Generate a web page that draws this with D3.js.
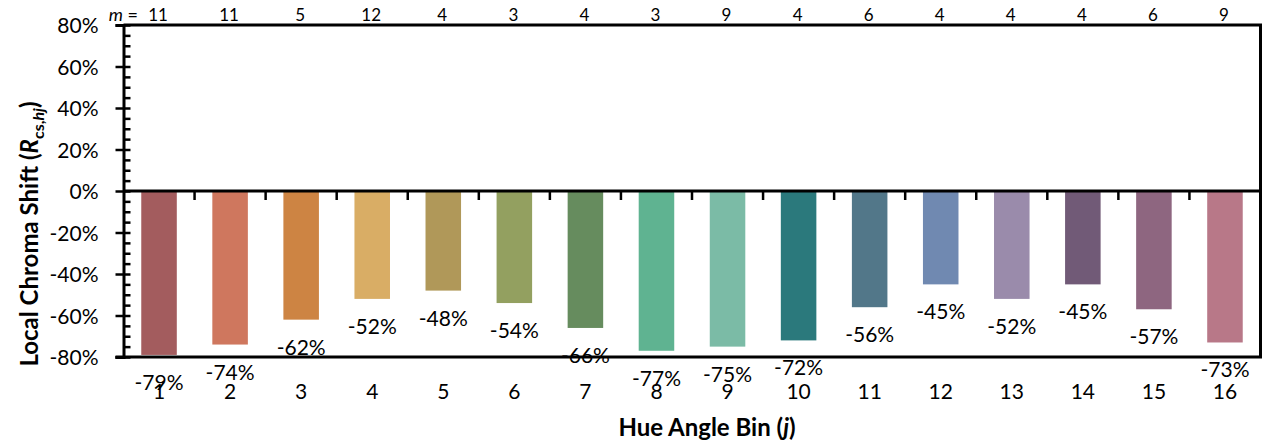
<!DOCTYPE html>
<html><head><meta charset="utf-8">
<script src="https://cdn.jsdelivr.net/npm/d3@7"></script>
<style>
html,body{margin:0;padding:0;background:#fff;}
text{font-family:Lato,"Noto Sans",sans-serif;fill:#000;}
</style></head>
<body><svg id="c" width="1264" height="445"></svg>
<script>
const categories = ["1","2","3","4","5","6","7","8","9","10","11","12","13","14","15","16"];
const values = [-0.79,-0.74,-0.62,-0.52,-0.48,-0.54,-0.66,-0.77,-0.75,-0.72,-0.56,-0.45,-0.52,-0.45,-0.57,-0.73];
const counts = [11,11,5,12,4,3,4,3,9,4,6,4,4,4,6,9];
const colors = ["#A35C5E","#CF775E","#CD8443","#D9AD65","#B09859","#93A060","#668C5E","#5FB391",
                "#7BBBA6","#2B797C","#527789","#7089B1","#9A8BAB","#715A77","#8E6680","#B87888"];
const yMajorTicks = [-0.8,-0.6,-0.4,-0.2,0,0.2,0.4,0.6,0.8];
const yMinorTicks = d3.range(-80,81,5).map(d=>d/100);

const svg = d3.select("#c");
const L = 123.5, R = 1260.5, T = 25, B = 357;
const x = d3.scaleBand().domain(categories).range([L,R]).paddingInner(0.5).paddingOuter(0.25);
const y = d3.scaleLinear().domain([-0.8,0.8]).range([B,T]);
const step = x.step();

// bars
svg.append("g").selectAll("rect").data(values).join("rect")
  .attr("x",(d,i)=>x(categories[i]))
  .attr("width",x.bandwidth())
  .attr("y",y(0))
  .attr("height",d=>y(d)-y(0))
  .attr("fill",(d,i)=>colors[i]);

// plot frame (top, right, bottom)
const frame = svg.append("g").attr("stroke","#000").attr("stroke-width",3).attr("fill","none");
frame.append("path").attr("d",`M${L},${T}H${R}V${B}H${L-8}`);

// zero line with category boundary ticks
const xg = svg.append("g").attr("transform",`translate(0,${y(0)})`);
xg.append("line").attr("x1",L).attr("x2",R).attr("stroke","#000").attr("stroke-width",3);
xg.selectAll("line.t").data(d3.range(1,17)).join("line").attr("class","t")
  .attr("x1",k=>L+k*step).attr("x2",k=>L+k*step).attr("y1",0).attr("y2",9)
  .attr("stroke","#000").attr("stroke-width",2.5);

// y axis
const yMaj = svg.append("g").attr("transform",`translate(${L},0)`)
  .call(d3.axisLeft(y).tickValues(yMajorTicks).tickSize(8).tickPadding(17).tickFormat(d3.format(".0%")));
yMaj.select(".domain").attr("stroke-width",3);
yMaj.selectAll(".tick line").attr("stroke-width",2.5);
yMaj.selectAll(".tick text").attr("font-size",21).attr("dy","0.36em").attr("font-family","Lato,'Noto Sans',sans-serif")
  .text(d=>Math.round(d*100)+"%");
const yMin = svg.append("g").attr("transform",`translate(${L},0)`)
  .call(d3.axisRight(y).tickValues(yMinorTicks).tickSize(7).tickFormat(""));
yMin.select(".domain").remove();
yMin.selectAll(".tick line").attr("stroke-width",2.5);

// category labels
svg.append("g").selectAll("text").data(categories).join("text")
  .attr("x",d=>x(d)+x.bandwidth()/2).attr("y",399)
  .attr("text-anchor","middle").attr("font-size",21).text(d=>d);

// value labels
svg.append("g").selectAll("text").data(values).join("text")
  .attr("x",(d,i)=>x(categories[i])+x.bandwidth()/2)
  .attr("y",d=>y(d)+35)
  .attr("text-anchor","middle").attr("font-size",21)
  .text(d=>Math.round(d*100)+"%");

// m counts
svg.append("g").selectAll("text").data(counts).join("text")
  .attr("x",(d,i)=>x(categories[i])+x.bandwidth()/2 - 1)
  .attr("y",21).attr("text-anchor","middle").attr("font-size",17).text(d=>d);
const mt = svg.append("text").attr("x",138).attr("y",21).attr("text-anchor","end").attr("font-size",18);
mt.append("tspan").attr("font-style","italic").text("m");
mt.append("tspan").text(" =");

// axis titles
svg.append("text").attr("x",707).attr("y",436).attr("text-anchor","middle")
  .attr("font-size",24).attr("font-weight","bold")
  .call(t=>{t.append("tspan").text("Hue Angle Bin (");
            t.append("tspan").attr("font-style","italic").text("j");
            t.append("tspan").text(")");});

const yt = svg.append("text").attr("transform","translate(38,234) rotate(-90)")
  .attr("text-anchor","middle").attr("font-size",24).attr("font-weight","bold");
yt.append("tspan").text("Local Chroma Shift (");
yt.append("tspan").attr("font-style","italic").text("R");
yt.append("tspan").attr("font-size",16).attr("dy",6).text("cs,");
yt.append("tspan").attr("font-size",16).attr("font-style","italic").text("hj");
yt.append("tspan").attr("dy",-6).text(")");
</script></body></html>
